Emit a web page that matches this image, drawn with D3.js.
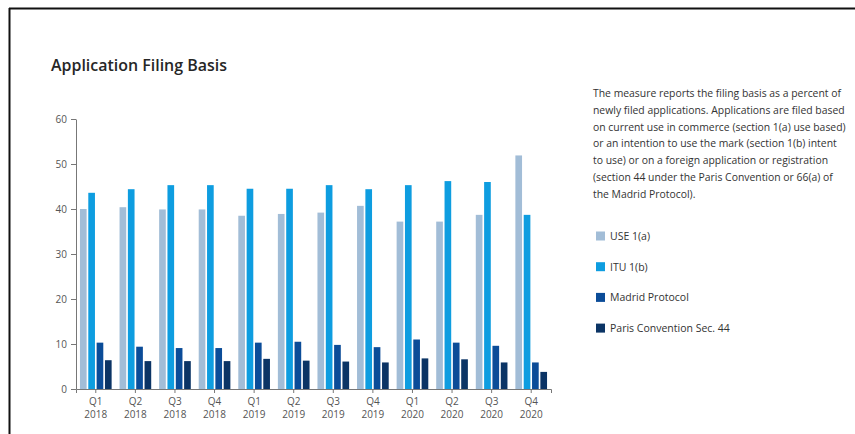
<!DOCTYPE html>
<html>
<head>
<meta charset="utf-8">
<script src="https://cdn.jsdelivr.net/npm/d3@7"></script>
<style>
html,body{margin:0;padding:0;background:#fff;}
svg{display:block;}
</style>
</head>
<body>
<svg id="chart" width="855" height="434"></svg>
<script>
const quarters = ["Q1","Q2","Q3","Q4","Q1","Q2","Q3","Q4","Q1","Q2","Q3","Q4"];
const years = ["2018","2018","2018","2018","2019","2019","2019","2019","2020","2020","2020","2020"];
const seriesNames = ["USE 1(a)","ITU 1(b)","Madrid Protocol","Paris Convention Sec. 44"];
const use1a   = [40.0,40.4,39.9,39.9,38.5,38.9,39.2,40.7,37.2,37.2,38.7,51.9];
const itu1b   = [43.6,44.4,45.3,45.3,44.5,44.5,45.3,44.4,45.3,46.2,46.0,38.7];
const madrid  = [10.3,9.4,9.1,9.1,10.3,10.5,9.8,9.3,11.0,10.3,9.6,5.9];
const paris   = [6.4,6.2,6.2,6.2,6.7,6.3,6.1,5.9,6.8,6.6,5.9,3.8];
const yTicks  = [0,10,20,30,40,50,60];
const colors  = ["#a2bdd7","#0e9de0","#0b4c98","#0b3465"];
const descLines = [
  "The measure reports the filing basis as a percent of",
  "newly filed applications. Applications are filed based",
  "on current use in commerce (section 1(a) use based)",
  "or an intention to use the mark (section 1(b) intent",
  "to use) or on a foreign application or registration",
  "(section 44 under the Paris Convention or 66(a) of",
  "the Madrid Protocol)."
];

const svg = d3.select("#chart");
const font = "'Open Sans', 'Noto Sans', sans-serif";

// frame lines
svg.append("line").attr("x1",9).attr("x2",855).attr("y1",8.5).attr("y2",8.5)
  .attr("stroke","#111").attr("stroke-width",2);
svg.append("line").attr("x1",9.5).attr("x2",9.5).attr("y1",8).attr("y2",434)
  .attr("stroke","#111").attr("stroke-width",2);

// title
svg.append("text").attr("x",51).attr("y",71)
  .attr("font-family",font).attr("font-size",16.5).attr("font-weight",600)
  .attr("fill","#262626").attr("textLength",176).attr("lengthAdjust","spacingAndGlyphs")
  .text("Application Filing Basis");

const idx = d3.range(quarters.length);
const data = [use1a, itu1b, madrid, paris];

const x0 = d3.scaleBand().domain(idx).range([76,551]).paddingInner(0.2).paddingOuter(0.1);
const x1 = d3.scaleBand().domain(d3.range(4)).range([0,x0.bandwidth()]).paddingInner(0.2);
const y = d3.scaleLinear().domain([0,60]).range([389,119]);

// bars
const g = svg.append("g");
const groups = g.selectAll("g.grp").data(idx).join("g")
  .attr("transform", i => `translate(${x0(i)},0)`);
groups.selectAll("rect").data(i => data.map((s,k)=>({k, v:s[i]}))).join("rect")
  .attr("x", d => x1(d.k)).attr("width", x1.bandwidth())
  .attr("y", d => y(d.v)).attr("height", d => y(0)-y(d.v))
  .attr("fill", d => colors[d.k]);

// y axis
const ya = svg.append("g").attr("transform","translate(76,0)")
  .call(d3.axisLeft(y).tickValues(yTicks).tickSize(5).tickSizeOuter(0).tickPadding(4));
ya.selectAll("path,line").attr("stroke","#777");
ya.selectAll("text").attr("font-family",font).attr("font-size",10).attr("fill","#555");

// x axis
const xa = svg.append("g").attr("transform","translate(0,389)")
  .call(d3.axisBottom(x0).tickSize(4).tickSizeOuter(4).tickFormat(() => ""));
xa.selectAll("path,line").attr("stroke","#777");
xa.selectAll(".tick text").each(function(i){
  const t = d3.select(this).text(null).attr("font-family",font).attr("font-size",10).attr("fill","#555");
  t.append("tspan").attr("x",0).attr("dy","0.85em").text(quarters[i]);
  t.append("tspan").attr("x",0).attr("dy","1.3em").text(years[i]);
});

// description
const desc = svg.append("g");
descLines.forEach((s,i)=>{
  desc.append("text").attr("x",593).attr("y",97+i*16.8)
    .attr("font-family",font).attr("font-size",10.4).attr("fill","#333").text(s);
});

// legend
const leg = svg.append("g");
seriesNames.forEach((n,k)=>{
  const cy = 236 + k*30.7;
  leg.append("rect").attr("x",596).attr("y",cy-4.5).attr("width",9).attr("height",9).attr("fill",colors[k]);
  leg.append("text").attr("x",610).attr("y",cy+3.8)
    .attr("font-family",font).attr("font-size",10.5).attr("fill","#333").text(n);
});
</script>
</body>
</html>
